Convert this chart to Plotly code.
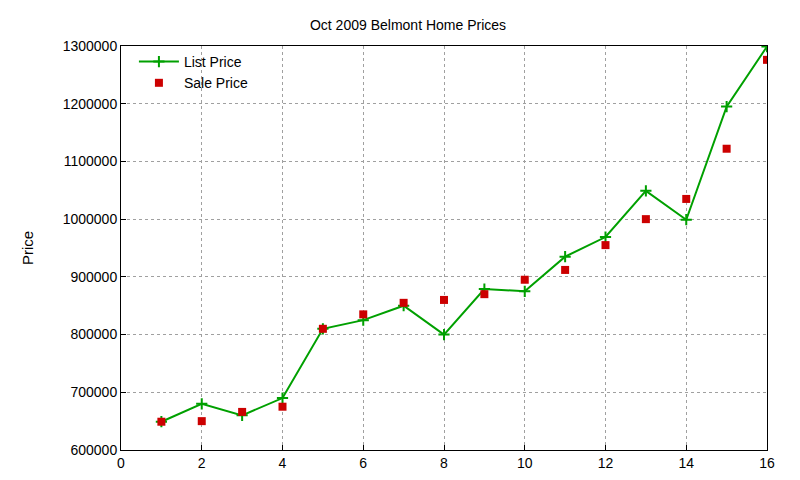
import plotly.graph_objects as go

months = list(range(1, 17))
list_price = [649000, 680000, 660000, 690000, 810000, 825000, 850000, 800000,
              879000, 875000, 935000, 969000, 1049000, 999000, 1195000, 1299000]
sale_price = [649000, 650000, 666000, 675000, 810000, 835000, 855000, 860000,
              870000, 895000, 912000, 955000, 1000000, 1035000, 1122000, 1276000]

fig = go.Figure()
fig.add_trace(go.Scatter(x=months, y=list_price, mode="lines+markers", name="List Price",
                         line=dict(color="#00a000", width=2),
                         marker=dict(symbol="cross-thin", size=8, line=dict(color="#00a000", width=2))))
fig.add_trace(go.Scatter(x=months, y=sale_price, mode="markers", name="Sale Price",
                         marker=dict(symbol="square", size=8, color="#cc0000")))

axis = dict(showline=True, mirror=True, linecolor="black", linewidth=1,
            showgrid=True, gridcolor="#a0a0a0", griddash="dot", gridwidth=1,
            ticks="inside", tickcolor="black", zeroline=False,
            tickfont=dict(size=14, color="black"))
fig.update_xaxes(range=[0, 16], dtick=2, **axis)
fig.update_yaxes(range=[600000, 1300000], dtick=100000, tickformat="d",
                 title=dict(text="Price", font=dict(size=15, color="black"), standoff=25), **axis)
fig.update_layout(
    width=800, height=480, plot_bgcolor="white", paper_bgcolor="white",
    font=dict(family="Liberation Sans, Arial, sans-serif", color="black"),
    margin=dict(l=113, r=41, t=38, b=38),
    title=dict(text="Oct 2009 Belmont Home Prices", x=0.5, xanchor="center", y=0.975,
               font=dict(size=14, color="black")),
    legend=dict(x=0.02, y=1.0, xanchor="left", yanchor="top", bgcolor="rgba(0,0,0,0)",
                font=dict(size=14), itemwidth=40),
    showlegend=True,
)
fig.write_html("out.html")
